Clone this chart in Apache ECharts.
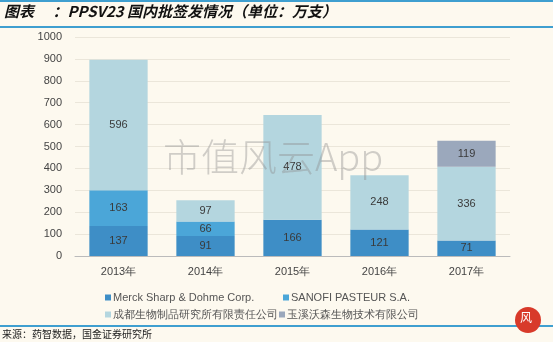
<!DOCTYPE html>
<html><head><meta charset="utf-8">
<script src="https://cdn.jsdelivr.net/npm/echarts@6/dist/echarts.min.js"></script>
<style>html,body{margin:0;padding:0;background:#fdf9ef;}#c{width:553px;height:342px;}</style>
</head><body><div id="c"></div>
<script>
const categories = ['2013年','2014年','2015年','2016年','2017年'];
const merck = [137, 91, 166, 121, 71];
const sanofi = [163, 66, null, null, null];
const chengdu = [596, 97, 478, 248, 336];
const yuxi = [null, null, null, null, 119];
const seriesNames = ['Merck Sharp & Dohme Corp.','SANOFI PASTEUR S.A.','成都生物制品研究所有限责任公司','玉溪沃森生物技术有限公司'];
const colors = ['#3e8ec6','#4ba6d8','#b4d6df','#9ba8bc'];
const chart = echarts.init(document.getElementById('c'));
const font = 'Liberation Sans, Arial, sans-serif';
function mk(name, data, color){
  return {name, type:'bar', stack:'t', data, barCategoryGap:'33%',
    itemStyle:{color},
    label:{show:true, position:'inside', color:'#3a3a3a', fontSize:11, fontFamily:font,
      formatter:p=>p.value==null?'':p.value}};
}
const legendPos = [[105,292],[283,292],[105,309],[279,309]];
const legends = seriesNames.map((n,i)=>({show:true, left:legendPos[i][0], top:legendPos[i][1],
  itemWidth:6, itemHeight:6, itemGap:0, icon:'rect', padding:0,
  textStyle:{color:'#555', fontSize:11, fontFamily:font, padding:[0,0,0,-3]}, data:[n]}));
chart.setOption({
  backgroundColor:'#fdf9ef',
  animation:false,
  grid:{left:75, right:43, top:37, bottom:86},
  xAxis:{type:'category', data:categories,
    axisLine:{lineStyle:{color:'#bbbbbb'}}, axisTick:{show:false},
    axisLabel:{color:'#444', fontSize:11, fontFamily:font, margin:10}},
  yAxis:{type:'value', min:0, max:1000, interval:100,
    axisLine:{show:false}, axisTick:{show:false},
    splitLine:{lineStyle:{color:'#ebe6da'}},
    axisLabel:{color:'#444', fontSize:11, fontFamily:font, margin:13, formatter:v=>String(v)}},
  legend:legends,
  series:[mk(seriesNames[0],merck,colors[0]), mk(seriesNames[1],sanofi,colors[1]),
          mk(seriesNames[2],chengdu,colors[2]), mk(seriesNames[3],yuxi,colors[3])],
  graphic:[
    {type:'rect', left:0, top:0, shape:{width:553, height:2}, style:{fill:'#3f9fd0'}},
    {type:'rect', left:0, top:26, shape:{width:553, height:2}, style:{fill:'#3f9fd0'}},
    {type:'text', left:4, top:4, style:{text:'图表　 ：PPSV23 国内批签发情况（单位：万支）', fill:'#111',
      font:'italic bold 15px "Noto Sans CJK SC", sans-serif'}},
    {type:'rect', left:0, top:325, shape:{width:553, height:2}, style:{fill:'#3f9fd0'}},
    {type:'text', left:2, top:329, style:{text:'来源：药智数据，国金证券研究所', fill:'#222',
      font:'10px "Noto Sans CJK SC", sans-serif'}},
    {type:'text', left:163, top:138, z:100, style:{text:'市值风云App', fill:'rgba(140,140,140,0.4)',
      font:'300 38px "Noto Sans CJK SC", sans-serif'}},
    {type:'circle', shape:{cx:528, cy:320, r:13}, style:{fill:'#d83a2a'}},
    {type:'text', left:520, top:311, style:{text:'风', fill:'#fff', font:'12px "Noto Sans CJK SC", sans-serif'}}
  ]
});
</script></body></html>
